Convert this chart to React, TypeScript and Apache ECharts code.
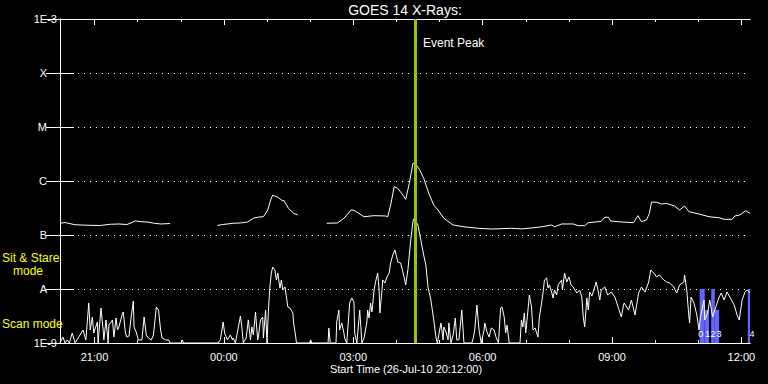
import React, { useEffect, useRef } from 'react';
import * as echarts from 'echarts';

const TITLE = 'GOES 14 X-Rays:';
const X_TITLE = 'Start Time (26-Jul-10 20:12:00)';
const FONT = 'Liberation Sans, Arial, sans-serif';

// x values: minutes after 26-Jul-10 20:12:00 UT
const X_MIN = 0;
const X_MAX = 960;
const hourTicks = [48, 108, 168, 228, 288, 348, 408, 468, 528, 588, 648, 708, 768, 828, 888, 948];
const labelTicks = [48, 228, 408, 588, 768, 948];
const labelTexts = ['21:00', '00:00', '03:00', '06:00', '09:00', '12:00'];
// y tick names for 1e-9 ... 1e-3 W/m^2
const yTickNames = ['1E-9', 'A', 'B', 'C', 'M', 'X', '1E-3'];

// GOES long channel (1-8 A), [minute, flux]; null = data gap
const longChannel: [number, number | null][] = [
  [0, 1.65e-7], [7, 1.7e-7], [14, 1.62e-7], [21, 1.55e-7], [30, 1.53e-7], [42, 1.51e-7], [56, 1.5e-7],
  [70, 1.58e-7], [82, 1.6e-7], [93, 1.56e-7], [105, 1.82e-7], [113, 1.76e-7], [121, 1.74e-7],
  [130, 1.66e-7], [140, 1.6e-7], [153, 1.63e-7], [160, null],
  [219, 1.5e-7], [226, 1.56e-7], [233, 1.6e-7], [241, 1.65e-7], [251, 1.67e-7], [261, 1.74e-7],
  [269, 2.04e-7], [276, 2.15e-7], [283, 2.18e-7], [289, 2.9e-7], [293, 4.44e-7], [296, 5.5e-7],
  [304, 4.9e-7], [310, 4.26e-7], [311, 4.44e-7], [318, 3.1e-7], [325, 2.52e-7], [331, 2.35e-7], [350, null],
  [371, 1.65e-7], [386, 1.67e-7], [395, 2.04e-7], [405, 2.9e-7], [409, 2.87e-7], [416, 2.5e-7],
  [423, 2.18e-7], [437, 2.28e-7], [453, 2.25e-7], [456, 2.18e-7], [460, 3.59e-7], [465, 7.85e-7],
  [470, 7.3e-7], [477, 5.5e-7], [481, 4.58e-7], [486, 9.06e-7], [491, 2.13e-6], [494, 2.13e-6],
  [500, 1.65e-6], [506, 1.12e-6], [513, 5.92e-7], [520, 3.59e-7], [526, 2.9e-7], [534, 2.04e-7],
  [547, 1.53e-7], [562, 1.42e-7], [582, 1.33e-7], [600, 1.29e-7], [615, 1.31e-7], [628, 1.33e-7],
  [642, 1.3e-7], [656, 1.35e-7], [670, 1.42e-7], [684, 1.53e-7], [688, 1.42e-7], [698, 1.6e-7],
  [714, 1.6e-7], [721, 1.49e-7], [730, 1.49e-7], [735, 1.69e-7], [753, 1.79e-7], [758, 2.13e-7],
  [763, 2.13e-7], [766, 1.82e-7], [777, 1.76e-7], [798, 1.69e-7], [804, 2.28e-7], [809, 1.76e-7],
  [816, 1.9e-7], [820, 2.52e-7], [823, 4.08e-7], [830, 4.04e-7], [837, 3.75e-7], [844, 3.84e-7],
  [855, 3.44e-7], [862, 2.9e-7], [869, 3.44e-7], [875, 2.7e-7], [889, 2.45e-7], [903, 2.18e-7],
  [917, 2.09e-7], [924, 1.95e-7], [935, 1.95e-7], [939, 2.25e-7], [946, 2.35e-7], [954, 2.82e-7],
  [960, 2.52e-7],
];

// GOES short channel (0.5-4 A), [minute, flux]
const shortChannel: [number, number][] = [
  [0, 1e-9], [4, 1.29e-9], [7, 1e-9], [10, 1.14e-9], [13, 1e-9], [17, 1.53e-9], [21, 1e-9],
  [32, 1.74e-9], [36, 1.14e-9], [40, 5.5e-9], [42, 1.74e-9], [45, 3.03e-9], [47, 1.53e-9],
  [52, 2.45e-9], [53, 1e-9], [57, 4.44e-9], [60, 1.74e-9], [61, 1.14e-9], [64, 2.67e-9], [67, 1e-9],
  [68, 2.15e-9], [73, 2.67e-9], [75, 1.29e-9], [78, 2.9e-9], [80, 1.74e-9], [82, 1.98e-9],
  [87, 3.59e-9], [88, 3.75e-9], [91, 1.53e-9], [93, 1.29e-9], [96, 1.35e-9], [99, 3.03e-9],
  [102, 5.99e-9], [103, 1.98e-9], [106, 1.6e-9], [109, 1.14e-9], [114, 1.14e-9], [117, 3.03e-9],
  [120, 1.41e-9], [123, 1.24e-9], [127, 1.14e-9], [130, 1.41e-9], [134, 4.64e-9], [137, 4.08e-9],
  [140, 1.74e-9], [142, 1.24e-9], [147, 1.14e-9], [151, 1.14e-9], [153, 1e-9], [169, 1e-9],
  [170, 1.14e-9], [172, 1e-9], [220, 1e-9], [223, 1.14e-9], [227, 2.45e-9], [229, 1.53e-9],
  [233, 1.14e-9], [237, 1.41e-9], [240, 1.14e-9], [241, 1.24e-9], [244, 1e-9], [251, 3.16e-9],
  [253, 1.98e-9], [255, 1e-9], [259, 1.24e-9], [262, 2.67e-9], [265, 1.14e-9], [267, 1.98e-9],
  [269, 1.41e-9], [272, 3.75e-9], [275, 1.14e-9], [276, 1.29e-9], [279, 2.67e-9], [282, 3.03e-9],
  [283, 1.24e-9], [286, 4.08e-9], [288, 1e-9], [290, 4.08e-9], [292, 1.09e-8], [294, 1.98e-8],
  [296, 2.55e-8], [299, 2.25e-8], [301, 1.47e-8], [303, 1.98e-8], [306, 1.04e-8], [308, 1.47e-8],
  [310, 9.57e-9], [313, 1.09e-8], [315, 7.1e-9], [317, 4.64e-9], [320, 4.44e-9], [324, 3.59e-9],
  [325, 2.35e-9], [328, 1.29e-9], [329, 1e-9], [347, 1e-9], [349, 1.14e-9], [350, 1e-9], [373, 1e-9],
  [374, 1.9e-9], [376, 1e-9], [384, 1e-9], [385, 2.45e-9], [388, 4.08e-9], [389, 1.74e-9],
  [392, 2.35e-9], [395, 1.53e-9], [396, 1.24e-9], [399, 1e-9], [403, 5.5e-9], [406, 6.81e-9],
  [409, 5.74e-9], [410, 1.53e-9], [413, 1e-9], [417, 4.08e-9], [420, 1e-9], [423, 1.24e-9],
  [427, 2.45e-9], [428, 4.08e-9], [430, 2.9e-9], [432, 5.5e-9], [434, 3.75e-9], [437, 9.57e-9],
  [439, 1.35e-8], [442, 1.98e-8], [444, 9.57e-9], [445, 3.59e-9], [448, 9.57e-9], [449, 1.47e-8],
  [452, 1.29e-8], [455, 1.67e-8], [458, 1.98e-8], [460, 3.03e-8], [463, 4.26e-8], [466, 5.27e-8],
  [470, 3.16e-8], [474, 3.03e-8], [479, 1.6e-8], [481, 1.19e-8], [484, 2.25e-8], [486, 4.26e-8],
  [488, 8.07e-8], [491, 1.74e-7], [492, 1.98e-7], [494, 1.9e-7], [498, 1.53e-7], [502, 8.07e-8],
  [506, 4.26e-8], [509, 2.78e-8], [512, 1.09e-8], [516, 6.25e-9], [520, 2.67e-9], [523, 1.29e-9],
  [525, 1e-9], [527, 1.41e-9], [530, 2.35e-9], [533, 1.14e-9], [534, 1.98e-9], [537, 1.6e-9],
  [540, 1.14e-9], [541, 2.35e-9], [544, 1e-9], [547, 1.41e-9], [550, 2.9e-9], [552, 1.14e-9],
  [555, 1.14e-9], [559, 4.08e-9], [562, 1e-9], [573, 1e-9], [575, 1.24e-9], [577, 1.74e-9],
  [580, 5.05e-9], [583, 1.74e-9], [586, 1e-9], [590, 1.74e-9], [591, 2.35e-9], [594, 1.6e-9],
  [597, 1.29e-9], [600, 1.9e-9], [604, 1.74e-9], [607, 1.24e-9], [610, 1e-9], [613, 4.44e-9],
  [615, 4.64e-9], [618, 3.03e-9], [620, 1.53e-9], [622, 2.15e-9], [625, 1e-9], [640, 1e-9],
  [642, 2.67e-9], [644, 1.98e-9], [646, 3.59e-9], [648, 1.53e-9], [652, 5.5e-9], [653, 7.74e-9],
  [656, 4.64e-9], [658, 1.74e-9], [661, 1.9e-9], [665, 1.29e-9], [667, 3.03e-9], [670, 5.5e-9],
  [672, 8.42e-9], [674, 1.47e-8], [677, 1.6e-8], [679, 1.04e-8], [681, 1.19e-8], [684, 8.79e-9],
  [686, 6.81e-9], [688, 9.57e-9], [691, 7.74e-9], [693, 1.19e-8], [698, 1.47e-8], [699, 9.57e-9],
  [702, 1.98e-8], [705, 1.35e-8], [708, 1.67e-8], [711, 1.19e-8], [714, 1.09e-8], [719, 8.42e-9],
  [723, 9.57e-9], [726, 7.1e-9], [728, 3.03e-9], [730, 1.98e-9], [733, 6.81e-9], [735, 4.08e-9],
  [737, 8.79e-9], [740, 7.41e-9], [744, 1.09e-8], [746, 1.35e-8], [749, 8.79e-9], [751, 6.25e-9],
  [753, 9.57e-9], [758, 1.09e-8], [762, 7.74e-9], [767, 8.79e-9], [772, 7.1e-9], [777, 4.44e-9],
  [781, 3.03e-9], [784, 5.05e-9], [785, 5.5e-9], [791, 4.08e-9], [795, 6.25e-9], [800, 3.3e-9],
  [805, 8.42e-9], [809, 1.09e-8], [814, 8.79e-9], [819, 1.35e-8], [822, 2.25e-8], [826, 1.98e-8],
  [830, 1.67e-8], [834, 1.82e-8], [840, 1.47e-8], [844, 1.35e-8], [848, 1.29e-8], [854, 1.09e-8],
  [858, 8.42e-9], [862, 1.19e-8], [868, 1.35e-8], [869, 1.82e-8], [872, 9.57e-9], [875, 3.03e-9],
  [876, 2.35e-9], [878, 7.1e-9], [882, 5.5e-9], [886, 3.3e-9], [889, 1.74e-9], [891, 3.03e-9],
  [896, 6.25e-9], [897, 2.67e-9], [901, 3.59e-9], [904, 6.25e-9], [908, 3.03e-9], [911, 4.08e-9],
  [917, 7.1e-9], [920, 8.42e-9], [924, 6.25e-9], [928, 8.79e-9], [932, 7.1e-9], [938, 5.05e-9],
  [942, 3.3e-9], [945, 2.67e-9], [949, 6.25e-9], [953, 8.79e-9], [956, 9.57e-9], [959, 8.79e-9],
  [960, 8.42e-9],
];

const eventPeakMinute = 494;

// instrument mode intervals (blue blocks) [start minute, end minute, top flux, label]
const scanStart = [890, 897, 906, 911, 957];
const scanEnd = [897, 903, 911, 917, 960];
const scanTop = [1e-8, 4.1e-9, 1e-8, 4.1e-9, 1e-8];
const scanLabels = ['0', '1', '2', '3', '4'];

const WHITE = '#ffffff';
const YELLOW = '#ffff00';
const GREEN = '#96c800';
const BLUE = '#6464ff';

// small horizontal nudges so the crowded block numbers stay legible
const scanLabelNudge = [-1.5, 0.5, 0, 2, 3];

function tickAxis(position: 'top' | 'bottom', values: number[], length: number, withLabels: boolean) {
  return {
    type: 'value',
    position,
    min: X_MIN,
    max: X_MAX,
    axisLine: { show: true, lineStyle: { color: WHITE, width: 1 } },
    axisTick: { show: true, inside: true, length, customValues: values, lineStyle: { color: WHITE, width: 1 } },
    axisLabel: withLabels
      ? {
          show: true,
          customValues: labelTicks,
          color: WHITE,
          fontSize: 11,
          fontFamily: FONT,
          margin: 8,
          formatter: (v: number) => {
            const i = labelTicks.indexOf(Math.round(v));
            return i >= 0 ? labelTexts[i] : '';
          },
        }
      : { show: false },
    splitLine: { show: false },
  };
}

function yAxisDef(position: 'left' | 'right', showLabels: boolean, showSplit: boolean) {
  return {
    type: 'log',
    logBase: 10,
    position,
    min: 1e-9,
    max: 1e-3,
    axisLine: { show: true, lineStyle: { color: WHITE, width: 1 } },
    axisTick: { show: true, inside: true, length: 14, lineStyle: { color: WHITE, width: 1 } },
    minorTick: { show: false },
    axisLabel: showLabels
      ? {
          show: true,
          margin: 3,
          formatter: (v: number) => {
            const i = Math.round(Math.log10(v)) + 9;
            const t = yTickNames[i] ?? '';
            return i === 0 || i === 6 ? `{n|${t}}` : `{l|${t}}`;
          },
          rich: {
            n: { color: WHITE, fontSize: 11, fontFamily: FONT },
            l: { color: WHITE, fontSize: 11, fontFamily: FONT, padding: [0, 10, 0, 0] },
          },
        }
      : { show: false },
    splitLine: showSplit
      ? { show: true, lineStyle: { color: WHITE, width: 1, type: [1, 5] } }
      : { show: false },
  };
}

export default function App() {
  const ref = useRef<HTMLDivElement>(null);

  useEffect(() => {
    document.body.style.margin = '0';
    document.body.style.background = '#000';
    if (!ref.current) return;
    const chart = echarts.init(ref.current, null, { renderer: 'svg', width: 768, height: 384 });

    const scanAreas = scanStart.map((s, i) => [
      {
        name: scanLabels[i],
        xAxis: s,
        yAxis: scanTop[i],
        label: {
          show: true,
          position: 'insideBottom',
          distance: 5,
          offset: [scanLabelNudge[i], 0],
          color: WHITE,
          fontSize: 9,
          fontFamily: FONT,
        },
      },
      { xAxis: scanEnd[i], yAxis: 1e-9 },
    ]);

    const option: any = {
      animation: false,
      backgroundColor: '#000000',
      grid: { left: 60, right: 18, top: 19, bottom: 41, containLabel: false },
      xAxis: [
        tickAxis('bottom', labelTicks, 6, true),
        tickAxis('bottom', hourTicks, 3, false),
        tickAxis('top', labelTicks, 6, false),
        tickAxis('top', hourTicks, 3, false),
      ],
      yAxis: [yAxisDef('left', true, true), yAxisDef('right', false, false)],
      series: [
        {
          name: 'modes',
          type: 'line',
          z: 1,
          data: [],
          markArea: {
            silent: true,
            itemStyle: { color: BLUE, opacity: 1 },
            data: scanAreas,
          },
        },
        {
          name: 'long',
          type: 'line',
          z: 3,
          showSymbol: false,
          connectNulls: false,
          lineStyle: { color: WHITE, width: 1 },
          data: longChannel,
        },
        {
          name: 'short',
          type: 'line',
          z: 3,
          showSymbol: false,
          lineStyle: { color: WHITE, width: 1 },
          data: shortChannel,
        },
        {
          name: 'peak',
          type: 'line',
          z: 5,
          data: [],
          markLine: {
            silent: true,
            symbol: ['none', 'none'],
            label: { show: false },
            lineStyle: { color: GREEN, width: 3, type: 'solid', opacity: 1 },
            data: [{ xAxis: eventPeakMinute }],
          },
        },
      ],
      graphic: [
        {
          type: 'text',
          x: 405,
          y: 10,
          z: 10,
          style: { text: TITLE, fill: WHITE, fontSize: 14, fontFamily: FONT, align: 'center', verticalAlign: 'middle' },
        },
        {
          type: 'text',
          x: 406,
          y: 369,
          z: 10,
          style: { text: X_TITLE, fill: WHITE, fontSize: 11, fontFamily: FONT, align: 'center', verticalAlign: 'middle' },
        },
        {
          type: 'text',
          x: 423,
          y: 43,
          z: 10,
          style: { text: 'Event Peak', fill: WHITE, fontSize: 12, fontFamily: FONT, align: 'left', verticalAlign: 'middle' },
        },
        {
          type: 'text',
          x: 2,
          y: 258,
          z: 10,
          style: { text: 'Sit & Stare', fill: YELLOW, fontSize: 12, fontFamily: FONT, align: 'left', verticalAlign: 'middle' },
        },
        {
          type: 'text',
          x: 13,
          y: 271,
          z: 10,
          style: { text: 'mode', fill: YELLOW, fontSize: 12, fontFamily: FONT, align: 'left', verticalAlign: 'middle' },
        },
        {
          type: 'text',
          x: 2,
          y: 324,
          z: 10,
          style: { text: 'Scan mode', fill: YELLOW, fontSize: 12, fontFamily: FONT, align: 'left', verticalAlign: 'middle' },
        },
      ],
    };

    chart.setOption(option);
    return () => chart.dispose();
  }, []);

  return (
    <div
      ref={ref}
      style={{ position: 'fixed', left: 0, top: 0, width: 768, height: 384, background: '#000' }}
    />
  );
}
